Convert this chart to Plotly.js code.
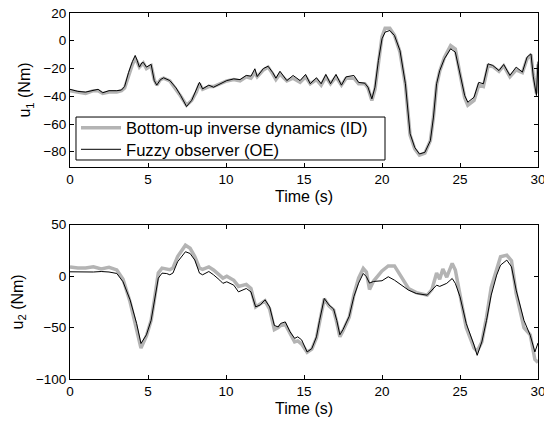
<!DOCTYPE html>
<html>
<head>
<meta charset="utf-8">
<script src="https://cdn.plot.ly/plotly-3.0.1.min.js"></script>
<style>html,body{margin:0;padding:0;background:#fff;}#chart{width:544px;height:427px;}</style>
</head>
<body>
<div id="chart"></div>
<script>
// Top panel: u1 (Nm)
const t1 = [0,0.5,1,1.5,1.8,2.1,2.5,3,3.3,3.5,3.75,4.0,4.18,4.3,4.45,4.6,4.7,4.9,5.2,5.4,5.56,5.8,6.0,6.4,6.8,7.1,7.47,7.8,8.1,8.3,8.5,8.9,9.2,9.6,10.05,10.5,10.9,11.3,11.6,11.85,12.0,12.4,12.7,13.0,13.2,13.46,13.9,14.3,14.75,15.1,15.4,15.8,16.1,16.4,16.7,17.05,17.4,17.7,18.2,18.5,18.9,19.1,19.35,19.55,19.77,20.0,20.2,20.5,20.8,21.15,21.5,21.8,22.1,22.4,22.75,23.1,23.3,23.5,23.7,24.0,24.4,24.7,25.0,25.3,25.5,25.9,26.2,26.5,26.8,27.1,27.5,27.8,28.2,28.6,29.0,29.3,29.55,29.7,29.9,30];
const u1_OE = [-35,-36.5,-37,-35.5,-35,-37.5,-36,-36,-35.5,-33,-23,-15,-10.6,-14,-19,-16,-15.6,-19,-17,-28.7,-32,-28,-26.7,-28.7,-34,-39.6,-47.4,-43,-35.4,-29.9,-34.7,-32,-33.5,-31,-28.7,-27.5,-28,-25,-25.5,-20.2,-25.8,-20,-18.4,-23,-27,-22,-28.7,-25,-28.7,-24.3,-31,-26.7,-31,-24.3,-31,-24.3,-32,-26,-25,-30,-30.6,-33.5,-41.9,-33.5,-14.2,1.4,6.2,7.4,3.8,-7,-31,-67,-77,-81.6,-80.4,-72,-55,-31,-21.5,-13,-5.8,-8.2,-24,-39.5,-44.3,-40.7,-30,-31,-16.6,-17.8,-21.5,-17.1,-25,-19,-22.6,-11.8,-9.4,-26,-39.5,-15];
const u1_ID = [-36,-37,-38,-36,-36,-38,-37,-37,-36,-34,-25,-17,-13,-15,-19,-17,-16,-20,-18,-28,-32,-28,-27,-29,-35,-40,-46.5,-43,-37,-31,-35,-33,-33,-31,-29,-28,-29,-26,-27,-23,-26,-21,-19,-24,-28,-24,-29,-27,-30,-26,-31,-28,-32,-26,-31,-26,-32,-27,-27,-31,-31,-34,-43,-35,-14,3,9,9,4,-8,-32,-68,-78,-82.5,-81,-72,-55,-32,-22,-12,-3.5,-6,-24,-41,-46.5,-43,-32,-33,-18,-18.5,-22,-18,-26,-21,-23,-13,-10,-25,-38,-17];

// Bottom panel: u2 (Nm)
const t2 = [0,0.5,1,1.5,2,2.5,3.0,3.4,3.85,4.27,4.55,4.9,5.2,5.4,5.66,5.9,6.2,6.4,6.6,6.9,7.4,7.7,8.0,8.3,8.5,8.9,9.2,9.6,9.8,10.05,10.5,10.8,11.3,11.6,11.9,12.2,12.5,12.8,13.1,13.35,13.5,13.8,14.1,14.4,14.6,14.85,15.2,15.5,15.8,16.0,16.3,16.6,16.9,17.1,17.3,17.5,17.9,18.2,18.5,18.8,19.0,19.2,19.45,20.0,20.4,20.8,21.25,21.7,22.2,22.9,23.2,23.5,23.7,23.9,24.15,24.5,24.7,25.0,25.4,25.9,26.1,26.4,26.7,27.0,27.35,27.6,28.0,28.3,28.6,29.1,29.5,29.8,30];
const u2_OE = [4.2,4,4.5,4,4.5,4,2.6,-5.5,-23,-46,-65.5,-57,-43,-26.6,-2,2.9,2.5,1.3,3,14,23.7,22,15.6,2.9,1.3,4.5,1.3,-3.9,-7,-5.5,-8.8,-15.3,-12,-15.3,-29.9,-28,-23,-30,-48,-49.4,-46,-44.5,-54,-60.5,-59,-62,-73.7,-70.5,-59,-43,-21.7,-28,-32,-43,-57,-52,-39,-19.8,-6.8,2.6,-0.6,-6.8,-5.2,-4.5,-0.6,-3.9,-8.8,-13.6,-16.9,-18.5,-13.6,-8.8,-10,-8.8,-7,-2.3,-7,-20,-46,-67,-77,-64,-43,-18.5,1,10.7,15.6,9.1,-13.6,-43,-57.4,-73.7,-65];
const u2_ID = [9,8,8,9,7,8.5,6,-3,-25,-50,-70,-58,-43,-24,3,7.8,6.5,6.2,8,19,30,27,19,7.8,6.5,9,6,1,-2,0,-4,-10,-8,-12,-30,-27,-24,-32,-52,-50,-48,-47,-56,-64,-63,-66,-74,-71,-60,-43,-22,-29,-33,-45,-59,-53,-40,-18,-2,7.5,4,-13,-5,5,9.9,9.9,-1,-12,-16,-18.5,-13,3,-3,7,-1,12.3,6,-20,-50,-70,-73,-64,-40,-11,7,18.8,20.4,15,-16.9,-50,-57,-81,-84];

const xTicks = [0,5,10,15,20,25,30];
const y1Ticks = [-80,-60,-40,-20,0,20];
const y2Ticks = [-100,-50,0,50];
const names = ['Bottom-up inverse dynamics (ID)','Fuzzy observer (OE)'];

const grayC = '#b4b4b4';
const traces = [
  {x:t1, y:u1_ID, xaxis:'x', yaxis:'y', mode:'lines', name:names[0], legend:'legend', line:{color:grayC, width:3.5}},
  {x:t1, y:u1_OE, xaxis:'x', yaxis:'y', mode:'lines', name:names[1], legend:'legend2', line:{color:'#000', width:1}},
  {x:t2, y:u2_ID, xaxis:'x2', yaxis:'y2', mode:'lines', showlegend:false, line:{color:grayC, width:3.5}},
  {x:t2, y:u2_OE, xaxis:'x2', yaxis:'y2', mode:'lines', showlegend:false, line:{color:'#000', width:1}}
];

const F = '"Liberation Sans", Arial, sans-serif';
function xax(anchor){
  return {anchor:anchor, range:[0,30], tickvals:xTicks, ticks:'inside', ticklen:4, tickcolor:'#000',
    showline:true, linecolor:'#000', linewidth:1, mirror:'ticks', showgrid:false, zeroline:false,
    ticklabeloverflow:'allow',
    tickfont:{family:F, size:13.5, color:'#000'},
    title:{text:'Time (s)', font:{family:F, size:16, color:'#000'}, standoff:4}};
}
function yax(anchor, range, ticks, title, domain){
  return {anchor:anchor, domain:domain, range:range, tickvals:ticks, ticks:'inside', ticklen:4, tickcolor:'#000',
    showline:true, linecolor:'#000', linewidth:1, mirror:'ticks', showgrid:false, zeroline:false,
    ticklabeloverflow:'allow',
    tickfont:{family:F, size:13.5, color:'#000'},
    title:{text:title, font:{family:F, size:16, color:'#000'}, standoff:8}};
}
function leg(y){
  return {x:0.0128, y:y, xanchor:'left', yanchor:'middle', bgcolor:'rgba(0,0,0,0)', borderwidth:0,
    font:{family:F, size:16.6, color:'#000'}, itemwidth:40};
}

const layout = {
  width:544, height:427,
  margin:{l:70, r:6, t:13, b:48},
  paper_bgcolor:'#fff', plot_bgcolor:'#fff',
  font:{family:F, color:'#000'},
  xaxis: Object.assign(xax('y'), {domain:[0,1]}),
  yaxis: yax('x', [-91,20], y1Ticks, 'u<sub>1</sub> (Nm)', [0.5792,1]),
  xaxis2: Object.assign(xax('y2'), {domain:[0,1]}),
  yaxis2: yax('x2', [-100,50], y2Ticks, 'u<sub>2</sub> (Nm)', [0,0.4216]),
  showlegend:true,
  legend: leg(0.6858),
  legend2: leg(0.627),
  shapes:[{type:'rect', xref:'paper', yref:'paper', x0:0.0128, x1:0.6731, y0:0.5984, y1:0.7158,
    fillcolor:'#fff', line:{color:'#000', width:1}, layer:'above'}]
};

Plotly.newPlot('chart', traces, layout, {displayModeBar:false, staticPlot:true});
</script>
</body>
</html>
